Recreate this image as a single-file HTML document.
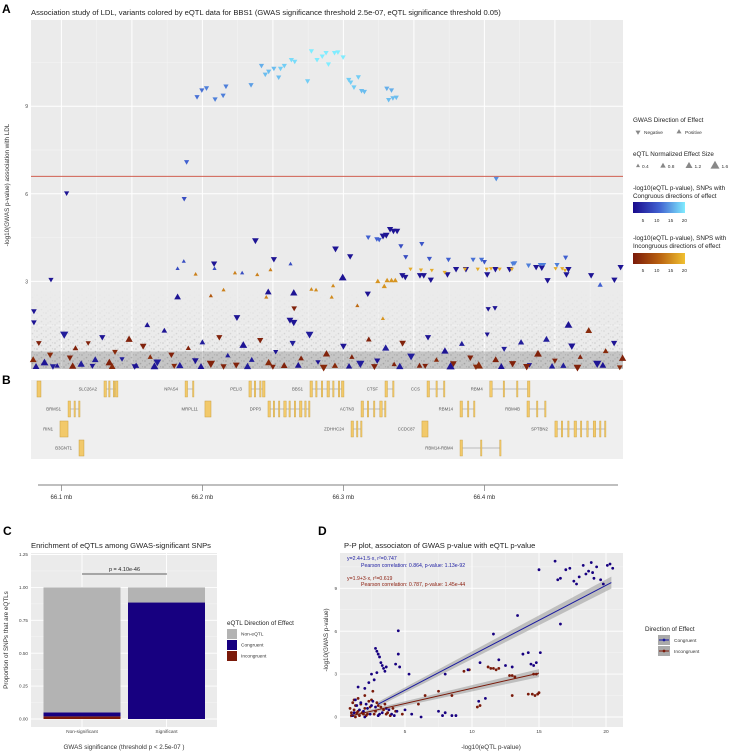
<!DOCTYPE html>
<html><head><meta charset="utf-8">
<style>
body{margin:0;background:#fff;}
svg text{font-family:"Liberation Sans",Arial,sans-serif;}
</style></head>
<body>
<svg id="fig" xmlns="http://www.w3.org/2000/svg" width="738" height="751" viewBox="0 0 738 751">
<defs>
<pattern id="dots" width="9" height="6" patternUnits="userSpaceOnUse">
<circle cx="1" cy="1" r="0.8" fill="#555"/><circle cx="5.5" cy="3.6" r="0.8" fill="#666"/><circle cx="7.5" cy="0.8" r="0.6" fill="#777"/><circle cx="3" cy="5" r="0.6" fill="#777"/>
</pattern>
<linearGradient id="fadeG" x1="0" y1="0" x2="0" y2="1">
<stop offset="0" stop-color="#fff" stop-opacity="0"/><stop offset="0.5" stop-color="#fff" stop-opacity="0.35"/><stop offset="1" stop-color="#fff" stop-opacity="0.9"/>
</linearGradient>
<mask id="fadeM"><rect x="31" y="290" width="592" height="79" fill="url(#fadeG)"/></mask>
<linearGradient id="congG" x1="0" x2="1"><stop offset="0" stop-color="#1a0a8c"/><stop offset="0.5" stop-color="#4060d0"/><stop offset="1" stop-color="#80ecff"/></linearGradient>
<linearGradient id="incG" x1="0" x2="1"><stop offset="0" stop-color="#7a1a0a"/><stop offset="0.5" stop-color="#b86010"/><stop offset="1" stop-color="#f0c030"/></linearGradient>
</defs>
<g id="A"></g>
<g id="B"></g>
<g id="C"></g>
<g id="D"></g>
</svg>
<script>
const aPos=[96.2,99.6,102.9,109.0,114.7,116.7,134.5,141.9,144.6,147.0,150.7,154.1,155.4,158.1,163.1,165.5,174.6,177.3,181.3,185.0,187.7,189.4,193.7,196.1,199.8,203.8,205.2,207.5,210.6,212.9,214.9,230.8,234.1,232.1,235.1,237.5,
88.8,87.1,3.7,308.4,
137.6,194.4,204.8,217.6,223.7,225.4,228.1,230.4,233.1,235.5,238.1,240.8,244.2,255.6,261,274.5,292,298,300,320.2,321.5,331.3,339.7,342,351.5,357.6,
241.8,243.9,254.3,257,262,273.8,279.9,286.9,302,307.8,317.9,336.7,340.7,344.8,358.2,359.6,375.7,392.2,396.6,382.1,
247.6,255,262.7,271.8,286.2,295.3,301.6,304.7,310.8,319.5,350.5,355.2,357.2,
224.4,229,231,234.1,236.8,95.2,123.1,138.9,148.3,177.3,180.6,191.7,192.7,115,106,209.9,228,145.3,
82.4,86.8,108.6,128.2,162.5,199.5,164.8,146.7,82.4,
-7.4,108.3,150.7,217.3,124.5,162.1,164.8,302.7,307.5,-19.5,-19.5,
165.1,359.6,60.9,
-20,-16,-12,-8,-3,2,6,10,14,19,24,29,34,38,43,48,53,58,63,68,73,78,84,90,95,100,106,112,118,124,129,135,141,147,152,158,164,170,176,182,188,194,200,206,212,218,224,230,236,242,248,254,260,266,272,278,284,290,296,302,308,314,320,326,332,338,344,350,356,362,368,374,380,386,392,398,
-18,-6,8,22,36,52,66,80,99,115,132,150,168,186,204,222,240,258,276,294,312,330,348,366,384,396];
const aVal=[9.33,9.56,9.63,9.25,9.38,9.69,9.74,10.4,10.1,10.2,10.3,10.0,10.3,10.4,10.6,10.54,9.87,10.9,10.6,10.72,10.84,10.45,10.84,10.86,10.69,9.92,9.83,9.66,10.01,9.54,9.51,9.62,9.56,9.23,9.29,9.31,
7.10,5.84,6.03,6.53,
4.41,4.13,3.87,4.52,4.46,4.44,4.57,4.6,4.8,4.74,4.74,4.22,3.85,4.3,3.79,3.76,3.76,3.76,3.68,3.62,3.64,3.56,3.58,3.58,3.58,3.83,
3.22,3.16,3.22,3.22,3.07,3.25,3.43,3.43,3.25,3.43,3.43,3.5,3.48,3.05,3.25,3.43,3.22,3.07,3.5,2.87,
3.43,3.4,3.39,3.32,3.43,3.43,3.43,3.45,3.43,3.43,3.45,3.45,3.39,
2.99,2.82,3.02,3.02,3.02,3.24,3.28,3.22,3.39,2.72,2.7,2.45,2.84,2.7,2.5,2.16,1.72,2.45,
3.43,3.68,3.43,3.28,3.59,3.11,2.59,2.62,2.45,
3.07,3.62,3.77,2.59,1.78,1.69,1.61,2.07,2.1,1.99,1.61,
2.09,1.49,1.49,
0.3,0.9,0.2,0.5,0.1,1.2,0.4,0.7,0.15,0.9,0.3,1.1,0.2,0.6,0.35,1.0,0.1,0.8,0.4,0.25,1.3,0.5,0.1,0.7,0.3,0.9,0.2,1.1,0.45,0.15,0.8,0.3,1.0,0.2,0.6,0.1,0.9,0.35,1.2,0.25,0.5,0.1,0.8,0.4,0.2,1.0,0.3,0.7,0.15,0.9,0.45,0.1,1.1,0.3,0.6,0.2,0.85,0.4,0.1,1.2,0.3,0.7,0.2,0.9,0.15,0.5,1.0,0.3,0.1,0.8,0.4,1.3,0.2,0.6,0.9,0.35,
0.05,0.1,0.08,0.12,0.05,0.1,0.07,0.12,0.06,0.1,0.05,0.09,0.11,0.06,0.08,0.1,0.05,0.12,0.07,0.09,0.06,0.1,0.08,0.05,0.11,0.07];
const aDir=[-1,-1,-1,-1,-1,-1,-1,-1,-1,-1,-1,-1,-1,-1,-1,-1,-1,-1,-1,-1,-1,-1,-1,-1,-1,-1,-1,-1,-1,-1,-1,-1,-1,-1,-1,-1,
-1,-1,-1,-1,
-1,-1,-1,-1,-1,-1,-1,-1,-1,-1,-1,-1,-1,-1,-1,-1,-1,-1,-1,-1,-1,-1,-1,-1,-1,-1,
-1,-1,-1,-1,-1,-1,-1,-1,-1,-1,-1,-1,-1,-1,-1,-1,-1,-1,-1,1,
-1,-1,-1,-1,-1,-1,-1,-1,-1,-1,-1,-1,-1,
1,1,1,1,1,1,1,1,1,1,1,1,1,1,1,1,1,1,
1,1,1,1,1,1,1,1,1,
-1,-1,-1,-1,-1,-1,-1,-1,-1,-1,-1,
-1,1,1,
1,-1,1,-1,1,-1,-1,1,1,-1,1,-1,1,-1,-1,1,1,-1,1,-1,1,-1,1,1,-1,1,-1,-1,1,-1,1,1,-1,1,-1,1,-1,1,-1,-1,1,1,-1,1,-1,1,-1,1,1,-1,-1,1,-1,1,1,-1,1,-1,1,-1,1,-1,-1,1,-1,1,1,-1,1,-1,1,1,-1,1,-1,1,
1,-1,1,-1,1,-1,1,-1,1,-1,1,-1,1,-1,1,-1,1,-1,1,-1,1,-1,1,-1,1,-1];
const aEq=[12,12,13,13,13,13,15,16,17,17,17,17,18,18,19,19,18,20,20,20,20,20,20,20,20,18,18,18,18,17,17,16,16,17,17,17,
11,9,3,14,
3,3,3,11,11,11,3,3,3,3,3,9,9,10,10,11,12,12,10,13,13,13,13,13,13,11,
3,3,3,3,3,3,3,3,3,3,3,3,3,3,3,3,3,3,3,11,
18,18,18,18,18,18,18,18,18,18,18,18,18,
16,16,16,16,16,14,14,14,14,15,15,15,15,14,10,12,16,14,
9,9,9,9,9,3,3,3,3,
3,3,3,3,3,3,3,3,3,3,3,
3,3,3,
4,3,3,4,3,4,3,3,4,3,4,3,3,4,4,3,3,3,4,4,3,3,4,3,3,4,3,3,4,3,3,4,3,4,3,3,4,3,4,3,3,4,3,3,4,3,3,4,3,3,4,3,3,4,3,3,4,3,4,3,3,4,3,4,3,3,4,3,4,3,3,4,3,4,3,3,
3,4,3,3,4,3,3,4,3,3,4,3,3,4,3,3,4,3,3,4,3,3,4,3,3,4];
const aType="ccccccccccccccccccccccccccccccccccccc ccc cccccccccccccccccccccccccc cccccccccccccccccccc iiiiiiiiiiiii iiiiiiiiiiiiiiiiii ccccccccc ccccccccccc icci icicciicicciiciciiccicicciicicciicicicciicicicciiciciciciiciciccicicciiciciccicic cicicicicicicicicicicicic".replace(/ /g,"").split("");
const aSize=[1,1,1,1,1,1,1,1,1,1,1,1,1,1,1,1,1,1,1,1,1,1,1,1,1,1,1,1,1,1,1,1,1,1,1,1,
1,1,1,1,
1.3,1.3,1.2,1,1,1,1.3,1.3,1.2,1.2,1.2,1,1,1,1,1,1,1,1,1,1,1,1,1,1,1,
1.2,1.2,1.2,1.2,1.2,1.2,1.2,1.2,1.2,1.2,1.2,1.2,1.2,1.2,1.2,1.2,1.2,1.2,1.2,1,
0.8,0.8,0.8,0.8,0.8,0.8,0.8,0.8,0.8,0.8,0.8,0.8,0.8,
1,1,1,1,1,0.8,0.8,0.8,0.8,0.8,0.8,0.8,0.8,0.8,0.8,0.8,0.8,0.8,
0.8,0.8,0.8,0.8,0.8,1.5,1.4,1.3,1.3,
1,1.2,1.2,1.2,1.3,1.3,1.4,1,1,1.1,1.1,
1.1,1.5,1.1,
1.3,1.1,1.5,1.2,1,1.6,1.2,1.1,1.4,1,1.3,1.2,1.5,1.1,1,1.4,1.2,1.3,1,1.5,1.1,1.2,1.4,1,1.3,1.1,1.6,1.2,1,1.3,1.5,1.1,1.2,1.4,1,1.3,1.2,1.1,1.5,1,1.4,1.2,1.3,1,1.6,1.1,1.2,1.4,1,1.3,1.5,1.1,1.2,1,1.4,1.3,1.1,1.2,1.6,1,1.3,1.1,1.4,1.2,1,1.5,1.3,1.1,1.2,1.4,1,1.3,1.6,1.1,1.2,1.4,
1.3,1.2,1.4,1.1,1.3,1.2,1.5,1.1,1.3,1.2,1.4,1.1,1.3,1.5,1.2,1.3,1.4,1.1,1.6,1.2,1.3,1.4,1.2,1.5,1.3,1.1];
const aYTicks=[3,6,9];
const aThreshold=6.6;
const gName=["","SLC26A2","NPAS4","PELI3","BBS1","CTSF","CCS","RBM4","BRMS1","MRPL11","DPP3","ACTN3","RBM14","RBM4B","RIN1","ZDHHC24","CCDC87","SPTBN2","B3GNT1","RBM14-RBM4"];
const gRow=[0,0,0,0,0,0,0,0,1,1,1,1,1,1,2,2,2,2,3,3];
const gStart=[-17.3,30.2,87.7,133,176.3,229.5,259.3,303.8,4.7,101.8,146.5,212.5,282.7,330.2,-1,205.4,255.7,350,12.5,282.7];
const gEnd=[-14.5,40.1,94.0,144.4,200.4,235.9,272,332.3,13.2,106.1,176.3,230.2,293.3,343.7,4.7,213.2,260,386.2,16,311.8];
const gExons=[1,4,2,4,7,2,3,4,3,1,9,5,3,3,1,3,1,9,1,3];
const bTicks=[66.1,66.2,66.3,66.4];
const cCats=["Non-significant","Significant"];
const cIncong=[0.02,0.0];
const cCong=[0.03,0.885];
const cNon=[0.95,0.115];
const cTicks=[0,0.25,0.5,0.75,1.0,1.25];
const cTickLab=["0.00","0.25","0.50","0.75","1.00","1.25"];
const dBx=[16.2,16.4,16.6,17.0,17.3,17.6,17.8,18.0,18.3,18.5,18.7,18.9,19.0,19.1,19.3,19.6,19.8,20.1,20.3,20.5,15,13.4,16.6,11.6,4.5,2.8,2.9,3.0,3.1,3.2,3.3,3.4,3.6,3.5,2.5,2.7,2.9,4.5,4.6,4.3,5.3,13.8,14.2,14.4,14.6,14.8,15.1,12.5,13.0,12.0,10.6,9.7,8.0,11.0,10.5,7.5,8.0,8.5,8.8,7.8,5.0,5.5,6.2,2.3,2.0,1.5,3.8,4.0,3.0,2.2,1.2,1.4,1.7,1.9,2.1,2.4,2.6,3.3,3.6,4.2,1.1,1.6,2.8,3.1,4.4,1.3,2.0,2.5];
const dBy=[10.9,9.6,9.7,10.3,10.4,9.5,9.3,9.8,10.6,10.0,10.2,10.8,10.1,9.7,10.5,9.6,9.3,10.6,10.7,10.4,10.3,7.1,6.5,5.8,6.03,4.8,4.6,4.4,4.2,3.8,3.6,3.4,3.5,3.2,3.0,2.6,3.1,4.4,3.5,3.7,3.0,4.4,4.5,3.7,3.6,3.8,4.5,3.6,3.5,4.0,3.8,3.3,3.0,1.3,1.1,0.4,0.3,0.1,0.1,0.1,0.5,0.2,0.0,2.4,2.0,2.1,0.5,0.2,0.1,0.6,0.3,0.8,1.0,0.4,0.9,0.2,1.1,0.3,0.6,0.1,0.1,0.5,0.7,0.2,0.4,1.2,0.0,0.8];
const dRx=[11.2,11.4,11.6,11.8,12.0,12.8,13.0,13.2,14.6,14.8,14.5,14.7,14.9,15.0,14.2,13.0,10.6,10.4,9.4,9.8,7.5,8.5,6.5,6.0,4.8,3.5,2.5,2.0,1.5,1.2,1.0,1.8,2.8,3.2,1.3,2.2,0.9,1.6,3.9,2.6,1.1,1.4,1.7,2.0,2.3,2.7,3.0,3.4,3.7,4.1,1.2,1.5,1.9,2.4,2.9,1.0,1.3,2.1,3.6,4.3];
const dRy=[3.5,3.4,3.4,3.3,3.4,2.9,2.9,2.8,3.0,3.0,1.6,1.5,1.6,1.7,1.6,1.5,0.8,0.7,3.2,3.3,1.8,1.5,1.5,0.9,0.2,0.9,1.2,1.5,1.3,0.5,0.1,0.3,0.4,0.7,0.8,0.2,0.6,0.1,0.1,1.8,1.0,0.3,0.9,0.6,1.1,0.2,0.8,0.5,0.3,0.6,1.2,0.4,0.2,0.7,1.0,0.3,0.0,0.1,0.2,0.4];
const dBline=[[3,0.9],[20.4,9.4]];
const dRline=[[0.9,0.07],[15,3.07]];
const dXTicks=[5,10,15,20];
const dYTicks=[0,3,6,9];

const NS="http://www.w3.org/2000/svg";
function mk(parent,tag,attrs,text){const e=document.createElementNS(NS,tag);for(const k in attrs)e.setAttribute(k,attrs[k]);if(text!==undefined)e.textContent=text;parent.appendChild(e);return e;}
function lerpHex(a,b,t){const pa=[1,3,5].map(i=>parseInt(a.substr(i,2),16)),pb=[1,3,5].map(i=>parseInt(b.substr(i,2),16));return"rgb("+pa.map((v,i)=>Math.round(v+(pb[i]-v)*t)).join(",")+")";}
function congCol(v){const t=Math.max(0,Math.min(1,(v-2)/18));return t<0.5?lerpHex("#1a0a8c","#4060d0",t*2):lerpHex("#4060d0","#80ecff",(t-0.5)*2);}
function incCol(v){const t=Math.max(0,Math.min(1,(v-2)/18));return t<0.5?lerpHex("#7a1a0a","#b86010",t*2):lerpHex("#b86010","#f0c030",(t-0.5)*2);}
function tri(cx,cy,s,dir){const h=s*0.87;return dir>0?`${cx},${cy-h*0.67} ${cx-s/2},${cy+h*0.33} ${cx+s/2},${cy+h*0.33}`:`${cx},${cy+h*0.67} ${cx-s/2},${cy-h*0.33} ${cx+s/2},${cy-h*0.33}`;}

const A=document.getElementById('A');
const axL=31,axR=623,ayT=20,ayB=369;
const xA=kb=>61.4+kb*1.41, yA=v=>ayB-v*29.2;
mk(A,'text',{x:2,y:13,'font-size':12,'font-weight':'bold',},'A');
mk(A,'text',{x:31,y:15,'font-size':7.6,fill:'#222',},'Association study of LDL, variants colored by eQTL data for BBS1 (GWAS significance threshold 2.5e-07, eQTL significance threshold 0.05)');
mk(A,'rect',{x:axL,y:ayT,width:axR-axL,height:ayB-ayT,fill:'#ebebeb',});
[1.5,4.5,7.5,10.5].forEach(v=>mk(A,'line',{x1:axL,x2:axR,y1:yA(v),y2:yA(v),stroke:'#f5f5f5','stroke-width':0.5}));
for(let k=25;k<400;k+=50){mk(A,'line',{x1:xA(k),x2:xA(k),y1:ayT,y2:ayB,stroke:'#f5f5f5','stroke-width':0.5});}
aYTicks.forEach(v=>{mk(A,'line',{x1:axL,x2:axR,y1:yA(v),y2:yA(v),stroke:'#fff','stroke-width':1});
 const t=mk(A,'text',{x:axL-3,y:yA(v)+2,'font-size':5,'text-anchor':'end',fill:'#444'},String(v));
 
 });
for(let k=0;k<400;k+=50){mk(A,'line',{x1:xA(k),x2:xA(k),y1:ayT,y2:ayB,stroke:'#fff','stroke-width':1});}
mk(A,'rect',{x:axL,y:yA(2.7),width:axR-axL,height:ayB-yA(2.7),fill:'url(#dots)',opacity:0.4,mask:'url(#fadeM)',});
mk(A,'rect',{x:axL,y:yA(0.6),width:axR-axL,height:yA(0)-yA(0.6),fill:'#555',opacity:0.25});
mk(A,'line',{x1:axL,x2:axR,y1:yA(aThreshold),y2:yA(aThreshold),stroke:'#cc4b3b','stroke-width':0.9,});
mk(A,'text',{transform:`translate(9,${yA(6.3)}) rotate(-90)`,'font-size':6.3,'text-anchor':'middle',fill:'#333',},'-log10(GWAS p-value)  association with  LDL');
const ptsA=mk(A,'g',{});
for(let i=0;i<aPos.length;i++){
 const col=aType[i]==='i'?incCol(aEq[i]):congCol(aEq[i]);
 const p=mk(ptsA,'polygon',{points:tri(xA(aPos[i]),Math.min(yA(aVal[i]),ayB-2),5.2*aSize[i],aDir[i]),fill:col});
 
 
}
const LA=mk(A,'g',{});
mk(LA,'text',{x:633,y:122,'font-size':6.3,fill:'#222'},'GWAS Direction of Effect');
mk(LA,'polygon',{points:tri(638,132,5,-1),fill:'#888'});
mk(LA,'text',{x:644,y:134,'font-size':4.8,fill:'#333'},'Negative');
mk(LA,'polygon',{points:tri(679,132,5,1),fill:'#888'});
mk(LA,'text',{x:685,y:134,'font-size':4.8,fill:'#333'},'Positive');
mk(LA,'text',{x:633,y:156,'font-size':6.3,fill:'#222'},'eQTL Normalized Effect Size');
[[638,4,'0.4'],[663,5.5,'0.8'],[689,7,'1.2'],[715,9,'1.6']].forEach(d=>{mk(LA,'polygon',{points:tri(d[0],166,d[1],1),fill:'#888'});mk(LA,'text',{x:d[0]+d[1]/2+2,y:168,'font-size':4.8,fill:'#333'},d[2]);});
mk(LA,'text',{x:633,y:190,'font-size':6.3,fill:'#222'},'-log10(eQTL p-value), SNPs with');
mk(LA,'text',{x:633,y:198,'font-size':6.3,fill:'#222'},'Congruous directions of effect');
mk(LA,'rect',{x:633,y:202,width:52,height:11,fill:'url(#congG)',});
mk(LA,'text',{x:633,y:240,'font-size':6.3,fill:'#222'},'-log10(eQTL p-value), SNPS with');
mk(LA,'text',{x:633,y:248,'font-size':6.3,fill:'#222'},'Incongruous directions of effect');
mk(LA,'rect',{x:633,y:253,width:52,height:11,fill:'url(#incG)',});
[5,10,15,20].forEach((v,i)=>{const x=643+i*13.8;mk(LA,'text',{x:x,y:222,'font-size':4.8,'text-anchor':'middle',fill:'#333'},String(v));mk(LA,'text',{x:x,y:272,'font-size':4.8,'text-anchor':'middle',fill:'#333'},String(v));});

const B=document.getElementById('B');
mk(B,'text',{x:2,y:384,'font-size':12,'font-weight':'bold',},'B');
mk(B,'rect',{x:31,y:380,width:592,height:79,fill:'#efefef',});
const rowY=[389,409,429,448];
for(let i=0;i<gName.length;i++){
 const g=mk(B,'g',{});
 
 
 const x1=xA(gStart[i]),x2=xA(gEnd[i]),y=rowY[gRow[i]];
 mk(g,'line',{x1:x1,x2:x2,y1:y,y2:y,stroke:'#aaa','stroke-width':0.7});
 const n=gExons[i];
 if(n===1){mk(g,'rect',{x:x1,y:y-8,width:x2-x1,height:16,fill:'#f2c96a',stroke:'#c9a040','stroke-width':0.5});}
 else{const span=(x2-x1);for(let e=0;e<n;e++){const ex=x1+span*e/(n-1);const w=(e%3===0)?2.5:1.4;mk(g,'rect',{x:Math.min(ex,x2-w),y:y-8,width:w,height:16,fill:'#f2c96a',stroke:'#c9a040','stroke-width':0.4});}}
 if(gName[i]) mk(g,'text',{x:x1-7,y:y+1.7,'font-size':4.3,'text-anchor':'end',fill:'#555'},gName[i]);
}
mk(B,'line',{x1:38,x2:618,y1:485,y2:485,stroke:'#999','stroke-width':1.2,});
bTicks.forEach(m=>{const x=xA((m-66.1)*1000);mk(B,'line',{x1:x,x2:x,y1:485,y2:491,stroke:'#888','stroke-width':0.8});
 const t=mk(B,'text',{x:x,y:499,'font-size':6,'text-anchor':'middle',fill:'#333'},m.toFixed(1)+' mb');
 
 });

const C=document.getElementById('C');
const yC=v=>719-v*131.6;
const cX=[82,166.5],bw=77;
mk(C,'text',{x:3,y:535,'font-size':12,'font-weight':'bold',},'C');
mk(C,'text',{x:31,y:548,'font-size':7.6,fill:'#222',},'Enrichment of eQTLs among GWAS-significant SNPs');
mk(C,'rect',{x:31,y:553,width:186,height:174,fill:'#ebebeb',});
cTicks.forEach((v,i)=>{mk(C,'line',{x1:31,x2:217,y1:yC(v),y2:yC(v),stroke:'#fff','stroke-width':0.9});
 if(i<cTicks.length-1)mk(C,'line',{x1:31,x2:217,y1:yC(v+0.125),y2:yC(v+0.125),stroke:'#f5f5f5','stroke-width':0.5});
 mk(C,'text',{x:28,y:yC(v)+1.6,'font-size':4.6,'text-anchor':'end',fill:'#444'},cTickLab[i]);});
cX.forEach(x=>mk(C,'line',{x1:x,x2:x,y1:553,y2:727,stroke:'#fff','stroke-width':0.9}));
for(let i=0;i<cCats.length;i++){
 const x=cX[i]-bw/2;
 let r=mk(C,'rect',{x:x,y:yC(cIncong[i]),width:bw,height:yC(0)-yC(cIncong[i]),fill:'#7a1a0a'});
 
 
 r=mk(C,'rect',{x:x,y:yC(cIncong[i]+cCong[i]),width:bw,height:yC(cIncong[i])-yC(cIncong[i]+cCong[i]),fill:'#170080'});
 
 
 r=mk(C,'rect',{x:x,y:yC(cIncong[i]+cCong[i]+cNon[i]),width:bw,height:yC(cIncong[i]+cCong[i])-yC(cIncong[i]+cCong[i]+cNon[i]),fill:'#b3b3b3'});
 
 
 mk(C,'text',{x:cX[i],y:733,'font-size':4.8,'text-anchor':'middle',fill:'#444'},cCats[i]);
}
mk(C,'line',{x1:82,x2:167,y1:574,y2:574,stroke:'#333','stroke-width':0.8,});
mk(C,'text',{x:124.5,y:571,'font-size':5.5,'text-anchor':'middle',fill:'#222',},'p = 4.10e-46');
mk(C,'text',{transform:'translate(8,640) rotate(-90)','font-size':6.3,'text-anchor':'middle',fill:'#333',},'Proportion of SNPs that are eQTLs');
mk(C,'text',{x:124,y:749,'font-size':6.3,'text-anchor':'middle',fill:'#333',},'GWAS significance (threshold p < 2.5e-07 )');
const LC=mk(C,'g',{});
mk(LC,'text',{x:227,y:625,'font-size':6.3,fill:'#222'},'eQTL Direction of Effect');
[['#b3b3b3','Non-eQTL',629],['#170080','Congruent',640],['#7a1a0a','Incongruent',651]].forEach(d=>{mk(LC,'rect',{x:227,y:d[2],width:10,height:10,fill:d[0]});mk(LC,'text',{x:241,y:d[2]+6.5,'font-size':4.8,fill:'#333'},d[1]);});

const D=document.getElementById('D');
const xD=v=>338+v*13.4, yD=v=>717-v*14.3;
mk(D,'text',{x:318,y:535,'font-size':12,'font-weight':'bold',},'D');
mk(D,'text',{x:344,y:548,'font-size':7.6,fill:'#222',},'P-P plot, associaton of GWAS p-value with eQTL p-value');
mk(D,'rect',{x:340,y:553,width:283,height:174,fill:'#ebebeb',});
dYTicks.forEach(v=>{mk(D,'line',{x1:340,x2:623,y1:yD(v),y2:yD(v),stroke:'#fff','stroke-width':0.9});mk(D,'line',{x1:340,x2:623,y1:yD(v+1.5),y2:yD(v+1.5),stroke:'#f5f5f5','stroke-width':0.5});
 mk(D,'text',{x:337,y:yD(v)+1.6,'font-size':4.6,'text-anchor':'end',fill:'#444'},String(v));});
dXTicks.forEach(v=>{mk(D,'line',{x1:xD(v),x2:xD(v),y1:553,y2:727,stroke:'#fff','stroke-width':0.9});mk(D,'line',{x1:xD(v-2.5),x2:xD(v-2.5),y1:553,y2:727,stroke:'#f5f5f5','stroke-width':0.5});
 mk(D,'text',{x:xD(v),y:733,'font-size':4.8,'text-anchor':'middle',fill:'#444'},String(v));});
function band(l,w,name){const [a,b]=l;const p=`${xD(a[0])},${yD(a[1])-w*0.4} ${xD(b[0])},${yD(b[1])-w} ${xD(b[0])},${yD(b[1])+w} ${xD(a[0])},${yD(a[1])+w*0.4}`;
 const e=mk(D,'polygon',{points:p,fill:'#999',opacity:0.55});}
band(dBline,6,'congruent-ci-band');band(dRline,4,'incongruent-ci-band');
const ptsD=mk(D,'g',{});
for(let i=0;i<dRx.length;i++){const c=mk(ptsD,'circle',{cx:xD(dRx[i]),cy:yD(dRy[i]),r:1.4,fill:'#7a1a0a'});}
for(let i=0;i<dBx.length;i++){const c=mk(ptsD,'circle',{cx:xD(dBx[i]),cy:yD(dBy[i]),r:1.4,fill:'#170080'});}
let ln=mk(D,'line',{x1:xD(dBline[0][0]),y1:yD(dBline[0][1]),x2:xD(dBline[1][0]),y2:yD(dBline[1][1]),stroke:'#1a1aa0','stroke-width':1});

ln=mk(D,'line',{x1:xD(dRline[0][0]),y1:yD(dRline[0][1]),x2:xD(dRline[1][0]),y2:yD(dRline[1][1]),stroke:'#7a1a0a','stroke-width':1});

const ff='"Liberation Mono",monospace';
mk(D,'text',{x:347,y:560,'font-size':5.2,fill:'#1a1aa0','font-family':ff,},'y=2.4+1.5\u00b7x, r\u00b2=0.747');
mk(D,'text',{x:361,y:567,'font-size':5.2,fill:'#1a1aa0','font-family':ff,},'Pearson correlation: 0.864, p-value: 1.13e-92');
mk(D,'text',{x:347,y:580,'font-size':5.2,fill:'#8a1a0a','font-family':ff,},'y=1.9+3\u00b7x, r\u00b2=0.619');
mk(D,'text',{x:361,y:586,'font-size':5.2,fill:'#8a1a0a','font-family':ff,},'Pearson correlation: 0.787, p-value: 1.45e-44');
mk(D,'text',{transform:'translate(328,640) rotate(-90)','font-size':6.3,'text-anchor':'middle',fill:'#333',},'-log10(GWAS p-value)');
mk(D,'text',{x:491,y:749,'font-size':6.3,'text-anchor':'middle',fill:'#333',},'-log10(eQTL p-value)');
const LD=mk(D,'g',{});
mk(LD,'text',{x:645,y:631,'font-size':6.3,fill:'#222'},'Direction of Effect');
[['#1a1aa0','Congruent',635],['#7a1a0a','Incongruent',646]].forEach(d=>{mk(LD,'rect',{x:658,y:d[2],width:12,height:10,fill:'#aaa'});mk(LD,'line',{x1:659,x2:669,y1:d[2]+5,y2:d[2]+5,stroke:d[0],'stroke-width':1});mk(LD,'circle',{cx:664,cy:d[2]+5,r:1.4,fill:d[0]});mk(LD,'text',{x:674,y:d[2]+7,'font-size':4.8,fill:'#333'},d[1]);});
</script>
</body></html>
